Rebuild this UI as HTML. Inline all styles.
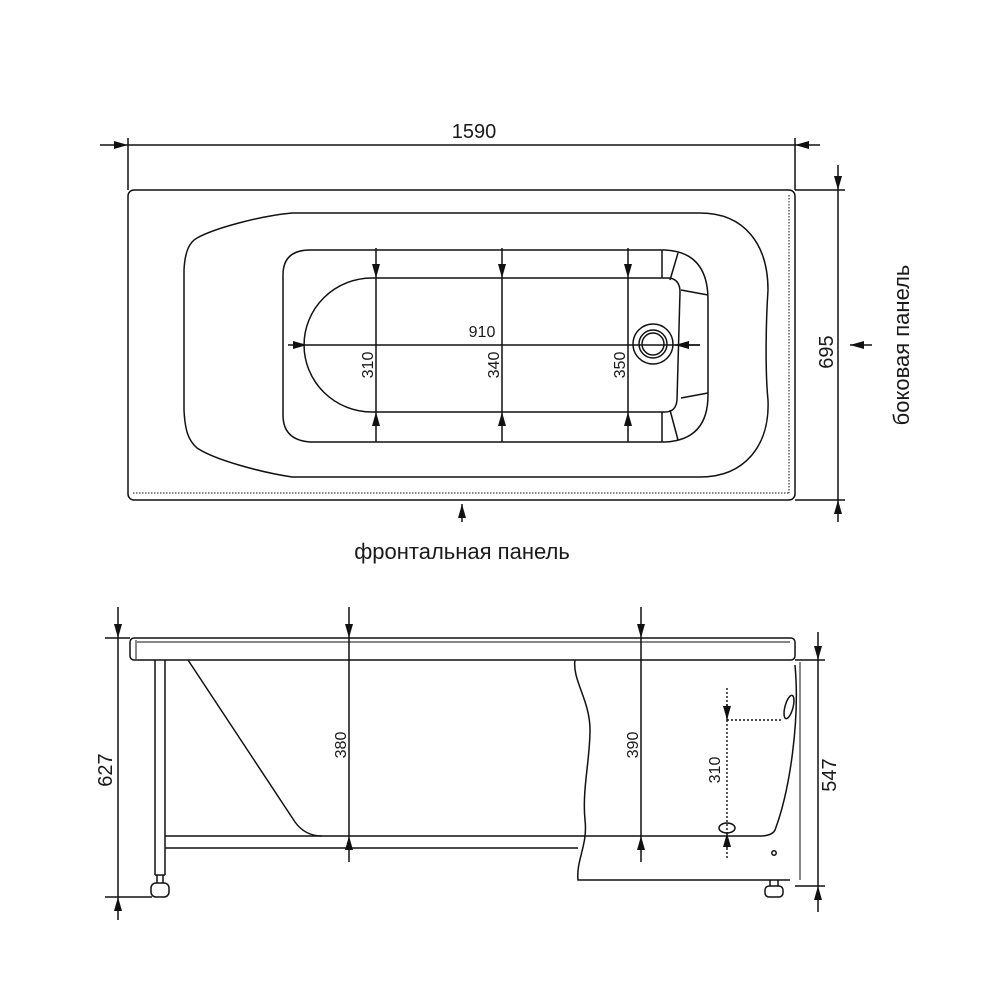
<!DOCTYPE html>
<html><head><meta charset="utf-8"><style>
html,body{margin:0;padding:0;background:#fff;width:1000px;height:1000px;overflow:hidden}
svg{display:block}
text{font-family:"Liberation Sans","DejaVu Sans",sans-serif;fill:#1a1a1a}
</style></head><body>
<svg width="1000" height="1000" viewBox="0 0 1000 1000" xmlns="http://www.w3.org/2000/svg">
<defs>
<marker id="a" viewBox="0 0 14 10" refX="14" refY="5" markerWidth="14" markerHeight="10" markerUnits="userSpaceOnUse" orient="auto"><path d="M0,1 L14,5 L0,9 Z" fill="#111"/></marker>
</defs>
<g fill="none" stroke="#111" stroke-width="1.5">
<!-- top view -->
<line x1="100" y1="145" x2="128" y2="145" marker-end="url(#a)"/>
<line x1="128" y1="145" x2="795" y2="145"/>
<line x1="820" y1="145" x2="795" y2="145" marker-end="url(#a)"/>
<line x1="128" y1="138" x2="128" y2="190"/>
<line x1="795" y1="138" x2="795" y2="190"/>
<rect x="128" y="190" width="667" height="310" rx="6"/>
<line x1="133" y1="493" x2="789" y2="493" stroke-dasharray="1.5 1.5" stroke-width="1"/>
<line x1="789" y1="195" x2="789" y2="493" stroke-dasharray="1.5 1.5" stroke-width="1"/>
<line x1="795" y1="190" x2="845" y2="190"/>
<line x1="795" y1="500" x2="845" y2="500"/>
<line x1="838" y1="165" x2="838" y2="190" marker-end="url(#a)"/>
<line x1="838" y1="190" x2="838" y2="500"/>
<line x1="838" y1="522" x2="838" y2="500" marker-end="url(#a)"/>
<line x1="872" y1="345" x2="850" y2="345" marker-end="url(#a)"/>
<line x1="462" y1="522" x2="462" y2="504" marker-end="url(#a)"/>
<!-- outer bowl -->
<path d="M292,213 L700,213 C745,213 768,245 768,290 C766,320 765,370 768,400 C770,445 745,477 700,477 L292,477 C260,472 215,460 197,448 C188,440 185,430 184,410 L184,270 C185,250 190,242 197,238 C215,228 260,216 292,213 Z"/>
<!-- inner well -->
<path d="M310,250 L665,250 Q708,252 708,300 L708,395 Q708,440 665,442 L310,442 Q283,440 283,415 L283,275 Q283,250 310,250 Z"/>
<!-- floor -->
<path d="M372,278 L670,278 Q680,280 680,292 L677,400 Q676,412 665,412 L372,412 A68,67 0 0 1 372,278 Z"/>
<path d="M662,250 L662,278 M678,253 L670,280 M681,290 L708,295 M681,398 L708,393 M662,412 L662,442 M670,410 L678,440"/>
<circle cx="653" cy="344" r="20"/><circle cx="653" cy="344" r="14"/><circle cx="653" cy="344" r="11"/>
<!-- inner dims -->
<g>
<line x1="376" y1="248" x2="376" y2="278" marker-end="url(#a)"/><line x1="376" y1="278" x2="376" y2="412"/><line x1="376" y1="442" x2="376" y2="412" marker-end="url(#a)"/>
<line x1="502" y1="248" x2="502" y2="278" marker-end="url(#a)"/><line x1="502" y1="278" x2="502" y2="412"/><line x1="502" y1="442" x2="502" y2="412" marker-end="url(#a)"/>
<line x1="628" y1="248" x2="628" y2="278" marker-end="url(#a)"/><line x1="628" y1="278" x2="628" y2="412"/><line x1="628" y1="442" x2="628" y2="412" marker-end="url(#a)"/>
<line x1="288" y1="345" x2="307" y2="345" marker-end="url(#a)"/><line x1="307" y1="345" x2="700" y2="345"/><line x1="700" y1="345" x2="675" y2="345" marker-end="url(#a)"/>
</g>
<!-- side view -->
<rect x="130" y="638" width="665" height="22" rx="4"/>
<line x1="137" y1="642" x2="790" y2="642" stroke-width="1"/>
<line x1="136" y1="640" x2="136" y2="659" stroke-width="1"/>
<line x1="105" y1="638" x2="130" y2="638"/>
<line x1="105" y1="897" x2="152" y2="897"/>
<line x1="118" y1="607" x2="118" y2="638" marker-end="url(#a)"/><line x1="118" y1="638" x2="118" y2="897"/><line x1="118" y1="920" x2="118" y2="897" marker-end="url(#a)"/>
<line x1="795" y1="660" x2="825" y2="660"/>
<line x1="795" y1="886" x2="825" y2="886"/>
<line x1="818" y1="632" x2="818" y2="660" marker-end="url(#a)"/><line x1="818" y1="660" x2="818" y2="886"/><line x1="818" y1="912" x2="818" y2="886" marker-end="url(#a)"/>
<path d="M155,660 L155,875 M165,660 L165,875 M155,875 L165,875"/>
<rect x="151" y="883" width="18" height="14" rx="5"/>
<path d="M157,875 L157,883 M163,875 L163,883"/>
<path d="M188,660 L295,822 Q305,836 322,836 L578,836"/>
<path d="M165,836 L322,836 M165,848 L578,848"/>
<path d="M575,660 C572,680 590,700 590,730 C590,760 582,790 585,820 C588,845 576,860 578,880 L790,880"/>
<path d="M795,665 C800,720 790,790 775,830 Q772,836 760,836 L578,836"/>
<line x1="800" y1="662" x2="800" y2="880" stroke-width="1"/>
<rect x="765" y="886" width="18" height="11" rx="4"/>
<path d="M770,880 L770,886 M778,880 L778,886"/>
<circle cx="774" cy="853" r="2.2"/>
<line x1="349" y1="607" x2="349" y2="638" marker-end="url(#a)"/><line x1="349" y1="638" x2="349" y2="836"/><line x1="349" y1="862" x2="349" y2="836" marker-end="url(#a)"/>
<line x1="641" y1="607" x2="641" y2="638" marker-end="url(#a)"/><line x1="641" y1="638" x2="641" y2="836"/><line x1="641" y1="862" x2="641" y2="836" marker-end="url(#a)"/>
<g stroke-dasharray="2 2" stroke-width="1.4">
<line x1="727" y1="688" x2="727" y2="720"/>
<line x1="727" y1="720" x2="727" y2="860"/>
<line x1="727" y1="720" x2="782" y2="720"/>
</g>
<line x1="727" y1="704" x2="727" y2="720" marker-end="url(#a)"/>
<line x1="727" y1="848" x2="727" y2="833" marker-end="url(#a)"/>
<ellipse cx="789" cy="707" rx="4" ry="12" transform="rotate(15 789 707)"/>
<ellipse cx="727" cy="828" rx="8" ry="5"/>
</g>
<g font-size="18">
<text x="474" y="138" text-anchor="middle" font-size="20">1590</text>
<text x="482" y="337" text-anchor="middle" font-size="16">910</text>
<text transform="translate(373,365) rotate(-90)" text-anchor="middle" font-size="16">310</text>
<text transform="translate(499,365) rotate(-90)" text-anchor="middle" font-size="16">340</text>
<text transform="translate(625,365) rotate(-90)" text-anchor="middle" font-size="16">350</text>
<text transform="translate(833,352) rotate(-90)" text-anchor="middle" font-size="20">695</text>
<text transform="translate(909,345) rotate(-90)" text-anchor="middle" font-size="22">боковая панель</text>
<text x="462" y="559" text-anchor="middle" font-size="22">фронтальная панель</text>
<text transform="translate(112,770) rotate(-90)" text-anchor="middle" font-size="20">627</text>
<text transform="translate(836,775) rotate(-90)" text-anchor="middle" font-size="20">547</text>
<text transform="translate(346,745) rotate(-90)" text-anchor="middle" font-size="16">380</text>
<text transform="translate(638,745) rotate(-90)" text-anchor="middle" font-size="16">390</text>
<text transform="translate(720,770) rotate(-90)" text-anchor="middle" font-size="16">310</text>
</g>
</svg>
</body></html>
